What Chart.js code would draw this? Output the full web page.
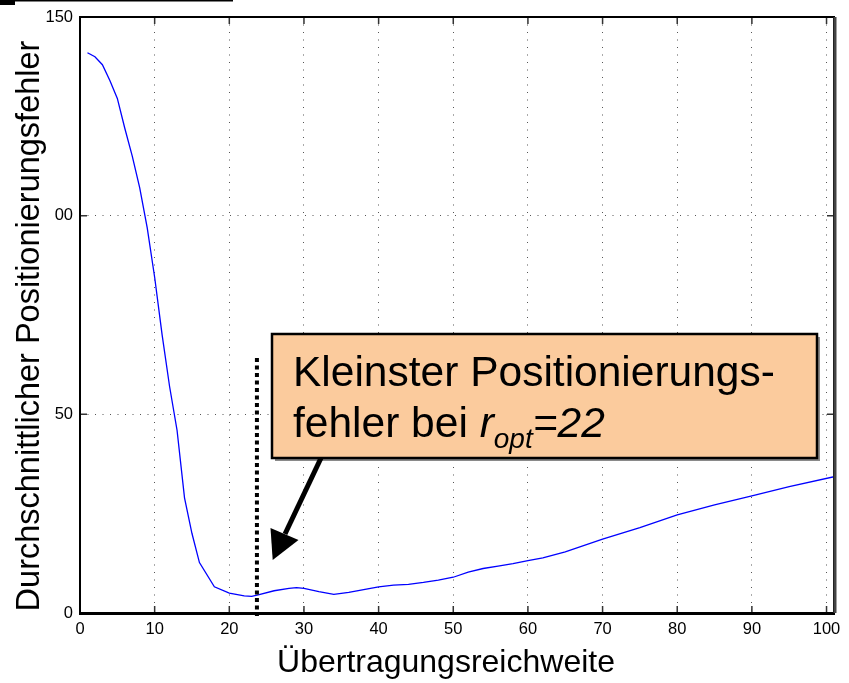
<!DOCTYPE html>
<html>
<head>
<meta charset="utf-8">
<script src="https://cdn.jsdelivr.net/npm/chart.js@4.4.1/dist/chart.umd.min.js"></script>
<style>
  body { margin: 0; background: #fff; }
  #wrap { width: 849px; height: 683px; }
</style>
</head>
<body>
<div id="wrap"><canvas id="errorChart" width="849" height="683"></canvas></div>
<script>
// range values (x) and the mean positioning error (y)
const rangeValues = [1, 2, 3, 4, 5, 6, 7, 8, 9, 10, 11, 12, 13, 14, 15, 16, 18, 20, 22, 23, 24, 26, 28, 29, 30, 32, 34, 36, 38, 40, 42, 44, 46, 48, 50, 52, 54, 56, 58, 60, 62, 65, 70, 75, 80, 85, 90, 95, 101];
const errorValues = [141, 140, 138, 134, 129.5, 122, 115, 107, 97, 84.5, 70, 57, 46, 29, 20, 12.7, 6.6, 5.0, 4.3, 4.2, 4.6, 5.6, 6.2, 6.4, 6.2, 5.4, 4.7, 5.2, 5.9, 6.6, 7.0, 7.2, 7.7, 8.3, 9.0, 10.3, 11.2, 11.8, 12.4, 13.2, 13.9, 15.4, 18.6, 21.5, 24.7, 27.2, 29.5, 31.8, 34.3];

const xTicks = [0, 10, 20, 30, 40, 50, 60, 70, 80, 90, 100];
const xTickLabels = ['0', '10', '20', '30', '40', '50', '60', '70', '80', '90', '100'];
const yTicks = [0, 50, 100, 150];
const yTickLabels = ['0', '50', '00', '150'];

const xTitle = 'Übertragungsreichweite';
const yTitle = 'Durchschnittlicher Positionierungsfehler';
const noteLine1 = 'Kleinster Positionierungs-';
const noteLine2 = 'fehler bei ';
const optRange = 23.7; // where the dotted marker sits

const FONT = 'Arial, "Liberation Sans", sans-serif';

//frame, inner tick marks, titles, note box and arrow
const decorations = {
    id: 'decorations',
    afterDraw(chart) {
        const ctx = chart.ctx;
        const a = chart.chartArea;
        const xs = chart.scales.x;
        const ys = chart.scales.y;
        ctx.save();

        //cut off bar at the very top
        ctx.fillStyle = '#000';
        ctx.fillRect(0, 0, 15, 5);
        ctx.fillRect(15, 0, 218, 1.5);

        //inner tick marks
        ctx.strokeStyle = '#333';
        ctx.lineWidth = 1.5;
        ctx.beginPath();
        xTicks.forEach(v => {
            const px = xs.getPixelForValue(v);
            ctx.moveTo(px, a.bottom); ctx.lineTo(px, a.bottom - 7);
            ctx.moveTo(px, a.top); ctx.lineTo(px, a.top + 7);
        });
        yTicks.forEach(v => {
            const py = ys.getPixelForValue(v);
            ctx.moveTo(a.left, py); ctx.lineTo(a.left + 7, py);
            ctx.moveTo(a.right, py); ctx.lineTo(a.right - 7, py);
        });
        ctx.stroke();

        //frame
        ctx.strokeStyle = '#000';
        ctx.lineWidth = 2;
        ctx.strokeRect(a.left, a.top, a.right - a.left, a.bottom - a.top);
        ctx.lineWidth = 3;
        ctx.beginPath();
        ctx.moveTo(a.left - 1, a.bottom + 0.5); ctx.lineTo(a.right + 1, a.bottom + 0.5);
        ctx.stroke();
        ctx.strokeStyle = '#444';
        ctx.beginPath();
        ctx.moveTo(a.right + 1, a.top); ctx.lineTo(a.right + 1, a.bottom);
        ctx.stroke();

        //axis titles
        ctx.fillStyle = '#000';
        ctx.textAlign = 'center';
        ctx.textBaseline = 'middle';
        ctx.font = '32px ' + FONT;
        ctx.fillText(xTitle, 446, 663);
        ctx.save();
        ctx.translate(30, 326);
        ctx.rotate(-Math.PI / 2);
        ctx.font = '32.5px ' + FONT;
        ctx.fillText(yTitle, 0, 0);
        ctx.restore();

        //dotted marker at the optimum
        const ox = xs.getPixelForValue(optRange);
        ctx.strokeStyle = '#000';
        ctx.lineWidth = 4;
        ctx.setLineDash([4, 3.5]);
        ctx.beginPath();
        ctx.moveTo(ox, 358); ctx.lineTo(ox, a.bottom + 3);
        ctx.stroke();
        ctx.setLineDash([]);

        //note box with shadow
        ctx.fillStyle = '#8a8a8a';
        ctx.fillRect(275, 337, 545, 124);
        ctx.fillStyle = '#fbcb9d';
        ctx.fillRect(272, 334, 545, 124);
        ctx.strokeStyle = '#000';
        ctx.lineWidth = 2.5;
        ctx.strokeRect(272, 334, 545, 124);

        ctx.fillStyle = '#000';
        ctx.textAlign = 'left';
        ctx.textBaseline = 'alphabetic';
        ctx.font = '42.5px ' + FONT;
        ctx.fillText(noteLine1, 293, 386);
        ctx.fillText(noteLine2, 293, 437);
        let tx = 293 + ctx.measureText(noteLine2).width;
        ctx.font = 'italic 42.5px ' + FONT;
        ctx.fillText('r', tx, 437);
        tx += ctx.measureText('r').width;
        ctx.font = 'italic 28px ' + FONT;
        ctx.fillText('opt', tx, 448);
        tx += ctx.measureText('opt').width;
        ctx.font = 'italic 42.5px ' + FONT;
        ctx.fillText('=22', tx, 437);

        //arrow
        ctx.strokeStyle = '#000';
        ctx.lineWidth = 5;
        ctx.beginPath();
        ctx.moveTo(321, 458); ctx.lineTo(285, 534);
        ctx.stroke();
        ctx.beginPath();
        ctx.moveTo(272.7, 560); ctx.lineTo(270.5, 528); ctx.lineTo(298.5, 540);
        ctx.closePath();
        ctx.fill();

        ctx.restore();
    }
};

const ctx = document.getElementById('errorChart').getContext('2d');
const points = rangeValues.map((x, i) => ({ x: x, y: errorValues[i] }));

new Chart(ctx, {
    type: 'line',
    data: {
        datasets: [{
            data: points,
            borderColor: '#0000ff',
            borderWidth: 1.3,
            pointRadius: 0,
            fill: false,
            tension: 0
        }]
    },
    options: {
        responsive: false,
        animation: false,
        layout: { padding: { top: 17, right: 15, left: 0, bottom: 0 } },
        plugins: { legend: { display: false }, tooltip: { enabled: false } },
        scales: {
            x: {
                type: 'linear',
                min: 0,
                max: 101,
                afterBuildTicks: s => { s.ticks = xTicks.map(v => ({ value: v })); },
                afterFit: s => { s.height = 70; },
                grid: { color: '#555', lineWidth: 1, drawTicks: false },
                border: { display: false, dash: [1, 6.5] },
                ticks: {
                    padding: 7,
                    color: '#000',
                    font: { family: FONT, size: 16.5 },
                    callback: v => xTickLabels[xTicks.indexOf(v)]
                }
            },
            y: {
                min: 0,
                max: 150,
                afterBuildTicks: s => { s.ticks = yTicks.map(v => ({ value: v })); },
                afterFit: s => { s.width = 80; },
                grid: { color: '#555', lineWidth: 1, drawTicks: false },
                border: { display: false, dash: [1, 6.5] },
                ticks: {
                    padding: 7,
                    color: '#000',
                    font: { family: FONT, size: 16.5 },
                    callback: v => yTickLabels[yTicks.indexOf(v)]
                }
            }
        }
    },
    plugins: [decorations]
});
</script>
</body>
</html>
